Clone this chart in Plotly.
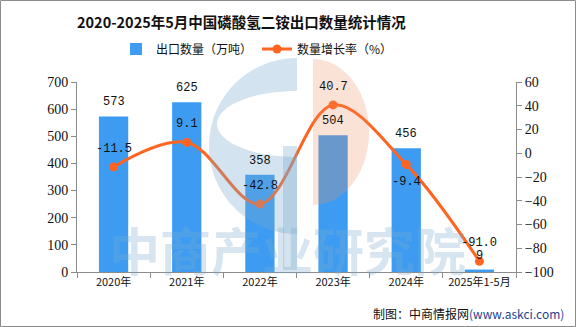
import math
import plotly.graph_objects as go

categories = ["2020年", "2021年", "2022年", "2023年", "2024年", "2025年1-5月"]
export_qty = [573, 625, 358, 504, 456, 9]
growth = [-11.5, 9.1, -42.8, 40.7, -9.4, -91.0]
growth_label_pos = [1, 1, 1, 1, -1, 1]  # above / below the point

W, H = 576, 327
L, R, T, B = 77, 60, 82, 55
PW, PH = W - L - R, H - T - B

def px(x):
    return (x - L) / PW

def py(y):
    return (H - B - y) / PH

def P(x, y):
    return f"{px(x):.5f},{py(y):.5f}"

BAR = "#3D9CF2"
LINE = "#FF6420"
LABEL_FONT = dict(family="Liberation Mono, DejaVu Sans Mono, monospace", size=12, color="#111")

fig = go.Figure()
fig.add_trace(go.Bar(
    x=categories, y=export_qty, name="出口数量（万吨）",
    marker=dict(color=BAR, line=dict(width=0)), width=0.4, yaxis="y",
))
fig.add_trace(go.Scatter(
    x=categories, y=growth, name="数量增长率（%）", yaxis="y2",
    mode="lines+markers", line=dict(color=LINE, width=3, shape="spline", smoothing=1.0),
    marker=dict(color=LINE, size=9),
))

annotations = []
for c, v in zip(categories, export_qty):
    annotations.append(dict(x=c, y=v, xref="x", yref="y", text=f"{v}", showarrow=False,
                            yshift=14, font=LABEL_FONT))
for c, g, p in zip(categories, growth, growth_label_pos):
    annotations.append(dict(x=c, y=g, xref="x", yref="y2", text=f"{g:.1f}", showarrow=False,
                            yshift=18 * p, font=LABEL_FONT))

# watermark text
annotations.append(dict(xref="paper", yref="paper", x=px(287), y=py(249), yanchor="middle",
                        text="<b>中商产业研究院</b>", showarrow=False,
                        font=dict(family="Noto Sans CJK SC", size=51, color="rgba(120,170,205,0.30)")))
# credits
annotations.append(dict(xref="paper", yref="paper", x=px(566), y=py(313), xanchor="right", yanchor="middle",
                        text="制图：中商情报网<span style='color:#1f3f8f'>(www.askci.com)</span>",
                        showarrow=False, font=dict(family="Noto Sans CJK SC", size=12, color="#111")))

# watermark logo approximations
cx, cy, r = 297, 146, 88
blue_path = "M " + " L ".join(P(cx - r * math.sin(a / 40 * math.pi), cy - r * math.cos(a / 40 * math.pi)) for a in range(0, 41)) + " Z"
hx, hy, hrx, hry = 297, 124, 80, 33
hole = "M " + " L ".join(P(hx - hrx * math.sin(a / 40 * math.pi), hy - hry * math.cos(a / 40 * math.pi)) for a in range(0, 41)) + " Z"
stem = f"M {P(283, 146)} L {P(297, 146)} L {P(297, 270)} L {P(283, 270)} Z"
pcx, pcy, prx, pry = 313, 132, 56, 73
pink = "M " + " L ".join(P(pcx + prx * math.sin(a / 40 * math.pi), pcy - pry * math.cos(a / 40 * math.pi)) for a in range(0, 41)) + " Z"

shapes = [
    dict(type="path", xref="paper", yref="paper", path=blue_path + " " + hole, fillrule="evenodd",
         fillcolor="rgba(120,170,205,0.33)", line=dict(width=0)),
    dict(type="path", xref="paper", yref="paper", path=stem,
         fillcolor="rgba(120,170,205,0.33)", line=dict(width=0)),
    dict(type="path", xref="paper", yref="paper", path=pink,
         fillcolor="rgba(240,140,90,0.25)", line=dict(width=0)),
    dict(type="rect", xref="paper", yref="paper", x0=px(0.5), x1=px(575.5), y0=py(326.5), y1=py(0.5),
         line=dict(color="#8c8c8c", width=1), fillcolor="rgba(0,0,0,0)"),
]

axis_font = dict(family="Liberation Serif, Times New Roman, serif", size=14, color="#111")
fig.update_layout(
    width=W, height=H, margin=dict(l=L, r=R, t=T, b=B),
    paper_bgcolor="white", plot_bgcolor="white",
    title=dict(text="<b>2020-2025年5月中国磷酸氢二铵出口数量统计情况</b>", x=px(261), xanchor="center",
               y=1 - 23 / H, yanchor="middle", font=dict(family="Noto Sans CJK SC", size=14.5, color="#111")),
    legend=dict(orientation="h", x=px(257), xanchor="center", y=py(49), yanchor="middle",
                font=dict(family="Noto Sans CJK SC", size=12, color="#111"), bgcolor="rgba(0,0,0,0)"),
    showlegend=True,
    xaxis=dict(showline=True, linecolor="#8c8c8c", ticks="outside", tickson="boundaries", ticklen=5,
               tickcolor="#8c8c8c", tickfont=dict(family="Noto Sans CJK SC", size=11, color="#111"),
               showgrid=False, zeroline=False),
    yaxis=dict(range=[0, 700], dtick=100, showline=True, linecolor="#8c8c8c", ticks="outside", ticklen=5,
               tickcolor="#8c8c8c", tickfont=axis_font, showgrid=False, zeroline=False),
    yaxis2=dict(range=[-100, 60], dtick=20, overlaying="y", side="right", showline=True, linecolor="#8c8c8c",
                ticks="outside", ticklen=5, tickcolor="#8c8c8c", tickfont=axis_font, showgrid=False,
                zeroline=False),
    annotations=annotations, shapes=shapes,
)

fig.write_html("out.html")
